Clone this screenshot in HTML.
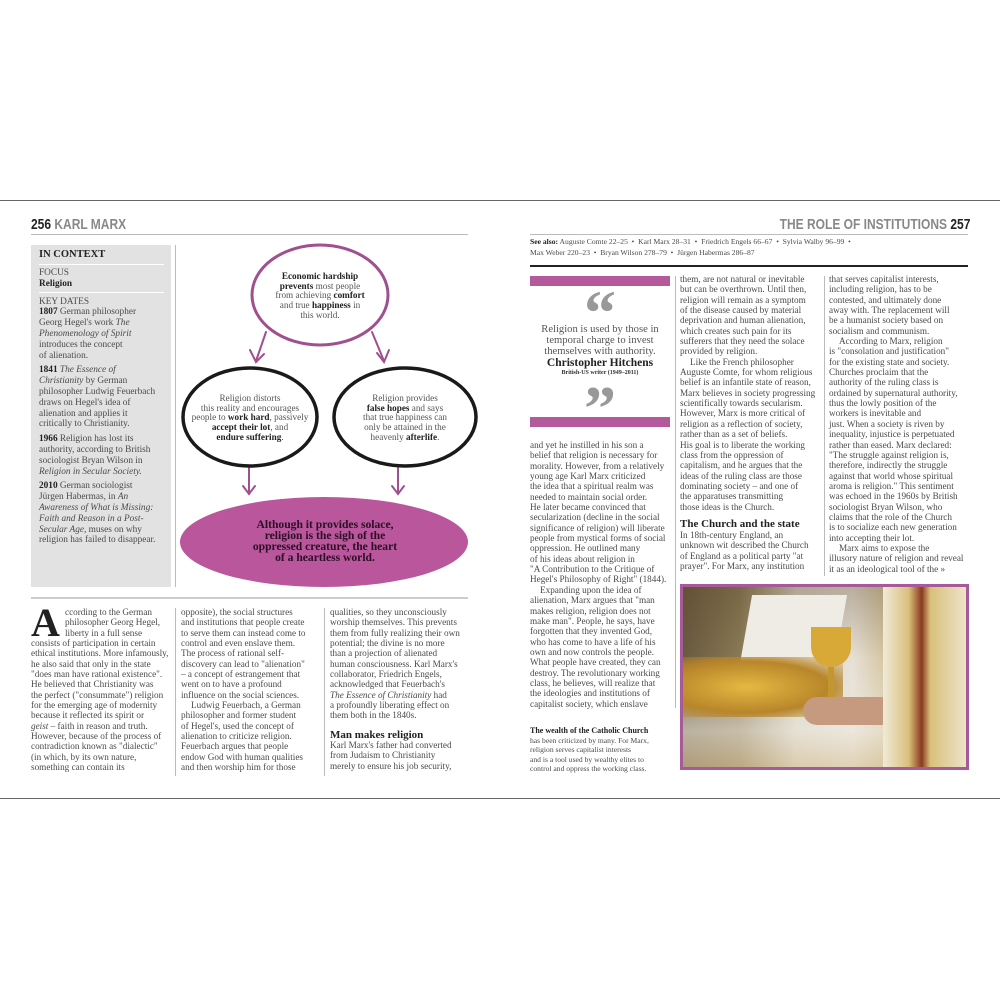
<!DOCTYPE html>
<html><head><meta charset="utf-8"><style>
*{margin:0;padding:0;box-sizing:border-box}
body{width:1000px;height:1000px;background:#fff;position:relative;overflow:hidden;font-family:"Liberation Serif",serif;color:#444}
.a{position:absolute}
.col{position:absolute;font-size:9.2px;line-height:10.35px;white-space:nowrap;color:#4a4a4a}
.col b{color:#222}
.hd{position:absolute;font-family:"Liberation Sans Narrow","Liberation Sans",sans-serif;font-weight:bold;font-size:15px;white-space:nowrap}
.vr{position:absolute;width:1px;background:#bbb}
.ind{padding-left:10px}
.dt{position:absolute;text-align:center;font-size:9.2px;line-height:9.7px;color:#555;white-space:nowrap}
.dt b{color:#222}
</style></head><body>
<div class="a" style="left:0;top:200px;width:1000px;height:599px;border-top:1.5px solid #666;border-bottom:1.5px solid #666"></div>

<div class="hd" style="left:31px;top:216px;transform:scaleX(.8);transform-origin:left"><span style="color:#222">256</span> <span style="color:#888">KARL MARX</span></div>
<div class="a" style="left:31px;top:234px;width:437px;height:1px;background:#bbb"></div>

<div class="a" style="left:31px;top:245px;width:140px;height:342px;background:#e2e2e2"></div>
<div class="vr" style="left:175px;top:245px;height:342px"></div>
<div class="a" style="left:39px;top:249px;font-size:10.5px;font-weight:bold;color:#222;white-space:nowrap">IN CONTEXT</div>
<div class="a" style="left:39px;top:264px;width:125px;height:1px;background:#fff"></div>
<div class="a" style="left:39px;top:292px;width:125px;height:1px;background:#fff"></div>
<div class="col" style="left:39px;top:268px;font-size:9.3px;line-height:10.8px">
<div>FOCUS</div><div><b>Religion</b></div>
<div style="height:7px"></div>
<div>KEY DATES</div>
<div><b>1807</b> German philosopher</div><div>Georg Hegel's work <i>The</i></div><div><i>Phenomenology of Spirit</i></div><div>introduces the concept</div><div>of alienation.</div>
<div style="height:4px"></div>
<div><b>1841</b> <i>The Essence of</i></div><div><i>Christianity</i> by German</div><div>philosopher Ludwig Feuerbach</div><div>draws on Hegel's idea of</div><div>alienation and applies it</div><div>critically to Christianity.</div>
<div style="height:4px"></div>
<div><b>1966</b> Religion has lost its</div><div>authority, according to British</div><div>sociologist Bryan Wilson in</div><div><i>Religion in Secular Society.</i></div>
<div style="height:4px"></div>
<div><b>2010</b> German sociologist</div><div>Jürgen Habermas, in <i>An</i></div><div><i>Awareness of What is Missing:</i></div><div><i>Faith and Reason in a Post-</i></div><div><i>Secular Age</i>, muses on why</div><div>religion has failed to disappear.</div>
</div>

<svg class="a" style="left:180px;top:240px" width="305" height="355" viewBox="180 240 305 355">
<g stroke="#a0508f" stroke-width="2" fill="none" stroke-linecap="round">
<line x1="266" y1="332" x2="256" y2="361"/><polyline points="250,350 256,362 264,354"/>
<line x1="372" y1="332" x2="384" y2="361"/><polyline points="377,353 384,362 389,350"/>
<line x1="249" y1="468" x2="249" y2="494"/><polyline points="243,486 249,494 255,486"/>
<line x1="398" y1="468" x2="398" y2="494"/><polyline points="392,486 398,494 404,486"/>
</g>
<ellipse cx="320" cy="295" rx="68" ry="50" fill="#fff" stroke="#a0508f" stroke-width="3"/>
<ellipse cx="250" cy="417" rx="67" ry="49" fill="#fff" stroke="#1a1a1a" stroke-width="3.5"/>
<ellipse cx="405" cy="417" rx="71" ry="49" fill="#fff" stroke="#1a1a1a" stroke-width="3.5"/>
<ellipse cx="324" cy="542" rx="144" ry="45" fill="#b9569c"/>
</svg>
<div class="dt" style="left:220px;top:272px;width:200px"><b>Economic hardship</b><br><b>prevents</b> most people<br>from achieving <b>comfort</b><br>and true <b>happiness</b> in<br>this world.</div>
<div class="dt" style="left:150px;top:394px;width:200px">Religion distorts<br>this reality and encourages<br>people to <b>work hard</b>, passively<br><b>accept their lot</b>, and<br><b>endure suffering</b>.</div>
<div class="dt" style="left:305px;top:394px;width:200px">Religion provides<br><b>false hopes</b> and says<br>that true happiness can<br>only be attained in the<br>heavenly <b>afterlife</b>.</div>
<div class="a" style="left:205px;top:519px;width:240px;text-align:center;font-size:11.6px;line-height:11px;font-weight:bold;color:#2a0e24;white-space:nowrap">Although it provides solace,<br>religion is the sigh of the<br>oppressed creature, the heart<br>of a heartless world.</div>

<div class="a" style="left:31px;top:597px;width:437px;height:2px;background:#ccc"></div>

<div class="a" style="left:31px;top:607px;font-family:'Liberation Serif',serif;font-weight:bold;font-size:40px;line-height:32px;color:#222">A</div>
<div class="col" style="left:31px;top:607px">
<div style="padding-left:34px">ccording to the German</div><div style="padding-left:34px">philosopher Georg Hegel,</div><div style="padding-left:34px">liberty in a full sense</div>
<div>consists of participation in certain</div><div>ethical institutions. More infamously,</div><div>he also said that only in the state</div><div>"does man have rational existence".</div><div>He believed that Christianity was</div><div>the perfect ("consummate") religion</div><div>for the emerging age of modernity</div><div>because it reflected its spirit or</div><div><i>geist</i> – faith in reason and truth.</div><div>However, because of the process of</div><div>contradiction known as "dialectic"</div><div>(in which, by its own nature,</div><div>something can contain its</div>
</div>
<div class="vr" style="left:175px;top:608px;height:168px"></div>
<div class="col" style="left:181px;top:607px">
<div>opposite), the social structures</div><div>and institutions that people create</div><div>to serve them can instead come to</div><div>control and even enslave them.</div><div>The process of rational self-</div><div>discovery can lead to "alienation"</div><div>– a concept of estrangement that</div><div>went on to have a profound</div><div>influence on the social sciences.</div><div class="ind">Ludwig Feuerbach, a German</div><div>philosopher and former student</div><div>of Hegel's, used the concept of</div><div>alienation to criticize religion.</div><div>Feuerbach argues that people</div><div>endow God with human qualities</div><div>and then worship him for those</div>
</div>
<div class="vr" style="left:324px;top:608px;height:168px"></div>
<div class="col" style="left:330px;top:607px">
<div>qualities, so they unconsciously</div><div>worship themselves. This prevents</div><div>them from fully realizing their own</div><div>potential; the divine is no more</div><div>than a projection of alienated</div><div>human consciousness. Karl Marx's</div><div>collaborator, Friedrich Engels,</div><div>acknowledged that Feuerbach's</div><div><i>The Essence of Christianity</i> had</div><div>a profoundly liberating effect on</div><div>them both in the 1840s.</div>
<div style="height:9px"></div>
<div style="font-weight:bold;font-size:11px;color:#222">Man makes religion</div>
<div>Karl Marx's father had converted</div><div>from Judaism to Christianity</div><div>merely to ensure his job security,</div>
</div>

<div class="hd" style="right:30px;top:216px;transform:scaleX(.8);transform-origin:right"><span style="color:#888">THE ROLE OF INSTITUTIONS</span> <span style="color:#222">257</span></div>
<div class="a" style="left:530px;top:234px;width:438px;height:1px;background:#bbb"></div>
<div class="col" style="left:530px;top:237px;font-size:7.6px;line-height:10.5px">
<div><b>See also:</b> Auguste Comte 22–25 &nbsp;•&nbsp; Karl Marx 28–31 &nbsp;•&nbsp; Friedrich Engels 66–67 &nbsp;•&nbsp; Sylvia Walby 96–99 &nbsp;•</div>
<div>Max Weber 220–23 &nbsp;•&nbsp; Bryan Wilson 278–79 &nbsp;•&nbsp; Jürgen Habermas 286–87</div>
</div>
<div class="a" style="left:530px;top:265px;width:438px;height:2px;background:#222"></div>

<div class="a" style="left:530px;top:276px;width:140px;height:10px;background:#b45a9c"></div>
<div class="a" style="left:530px;top:417px;width:140px;height:10px;background:#b45a9c"></div>
<div class="a" style="left:530px;top:288px;width:140px;text-align:center;font-size:64px;font-weight:bold;color:#999;line-height:50px;height:30px;overflow:hidden">“</div>
<div class="a" style="left:530px;top:324px;width:140px;text-align:center;font-size:10.6px;line-height:11px;color:#555">Religion is used by those in temporal charge to invest themselves with authority.</div>
<div class="a" style="left:530px;top:357px;width:140px;text-align:center;font-size:11.5px;font-weight:bold;color:#222">Christopher Hitchens</div>
<div class="a" style="left:530px;top:370px;width:140px;text-align:center;font-size:6px;font-weight:bold;color:#333">British-US writer (1949–2011)</div>
<div class="a" style="left:530px;top:384px;width:140px;text-align:center;font-size:64px;font-weight:bold;color:#999;line-height:50px;height:30px;overflow:hidden">”</div>

<div class="col" style="left:530px;top:440px">
<div>and yet he instilled in his son a</div><div>belief that religion is necessary for</div><div>morality. However, from a relatively</div><div>young age Karl Marx criticized</div><div>the idea that a spiritual realm was</div><div>needed to maintain social order.</div><div>He later became convinced that</div><div>secularization (decline in the social</div><div>significance of religion) will liberate</div><div>people from mystical forms of social</div><div>oppression. He outlined many</div><div>of his ideas about religion in</div><div>"A Contribution to the Critique of</div><div>Hegel's Philosophy of Right" (1844).</div><div class="ind">Expanding upon the idea of</div><div>alienation, Marx argues that "man</div><div>makes religion, religion does not</div><div>make man". People, he says, have</div><div>forgotten that they invented God,</div><div>who has come to have a life of his</div><div>own and now controls the people.</div><div>What people have created, they can</div><div>destroy. The revolutionary working</div><div>class, he believes, will realize that</div><div>the ideologies and institutions of</div><div>capitalist society, which enslave</div>
</div>
<div class="vr" style="left:675px;top:276px;height:432px"></div>
<div class="col" style="left:680px;top:274px">
<div>them, are not natural or inevitable</div><div>but can be overthrown. Until then,</div><div>religion will remain as a symptom</div><div>of the disease caused by material</div><div>deprivation and human alienation,</div><div>which creates such pain for its</div><div>sufferers that they need the solace</div><div>provided by religion.</div><div class="ind">Like the French philosopher</div><div>Auguste Comte, for whom religious</div><div>belief is an infantile state of reason,</div><div>Marx believes in society progressing</div><div>scientifically towards secularism.</div><div>However, Marx is more critical of</div><div>religion as a reflection of society,</div><div>rather than as a set of beliefs.</div><div>His goal is to liberate the working</div><div>class from the oppression of</div><div>capitalism, and he argues that the</div><div>ideas of the ruling class are those</div><div>dominating society – and one of</div><div>the apparatuses transmitting</div><div>those ideas is the Church.</div>
<div style="height:6px"></div>
<div style="font-weight:bold;font-size:11px;color:#222;line-height:12px">The Church and the state</div>
<div>In 18th-century England, an</div><div>unknown wit described the Church</div><div>of England as a political party "at</div><div>prayer". For Marx, any institution</div>
</div>
<div class="vr" style="left:824px;top:276px;height:300px"></div>
<div class="col" style="left:829px;top:274px">
<div>that serves capitalist interests,</div><div>including religion, has to be</div><div>contested, and ultimately done</div><div>away with. The replacement will</div><div>be a humanist society based on</div><div>socialism and communism.</div><div class="ind">According to Marx, religion</div><div>is "consolation and justification"</div><div>for the existing state and society.</div><div>Churches proclaim that the</div><div>authority of the ruling class is</div><div>ordained by supernatural authority,</div><div>thus the lowly position of the</div><div>workers is inevitable and</div><div>just. When a society is riven by</div><div>inequality, injustice is perpetuated</div><div>rather than eased. Marx declared:</div><div>"The struggle against religion is,</div><div>therefore, indirectly the struggle</div><div>against that world whose spiritual</div><div>aroma is religion." This sentiment</div><div>was echoed in the 1960s by British</div><div>sociologist Bryan Wilson, who</div><div>claims that the role of the Church</div><div>is to socialize each new generation</div><div>into accepting their lot.</div><div class="ind">Marx aims to expose the</div><div>illusory nature of religion and reveal</div><div>it as an ideological tool of the »</div>
</div>

<div class="col" style="left:530px;top:726px;font-size:7.6px;line-height:9.6px">
<div style="font-weight:bold;color:#222;font-size:8px">The wealth of the Catholic Church</div>
<div>has been criticized by many. For Marx,</div><div>religion serves capitalist interests</div><div>and is a tool used by wealthy elites to</div><div>control and oppress the working class.</div>
</div>

<div class="a" style="left:680px;top:584px;width:289px;height:186px;border:3px solid #a65a9a;overflow:hidden;background:linear-gradient(90deg,#6a5a40 0%,#8a7a55 20%,#d8d2c4 40%,#e6e0d6 60%,#c8b27a 80%,#bda264 100%)">
 <div class="a" style="left:0;top:0;width:100%;height:100%;background:linear-gradient(180deg,rgba(80,60,30,.3) 0%,rgba(0,0,0,0) 40%,rgba(240,235,225,.6) 80%,rgba(220,200,160,.6) 100%)"></div>
 <div class="a" style="left:62px;top:8px;width:95px;height:80px;background:#efece6;transform:skewX(-10deg)"></div>
 <div class="a" style="left:0;top:70px;width:160px;height:60px;background:radial-gradient(ellipse at 40% 50%,#e5b842,#b8862a 60%,rgba(150,110,40,0) 100%)"></div>
 <div class="a" style="left:128px;top:40px;width:40px;height:40px;border-radius:0 0 20px 20px;background:#d8a936"></div>
 <div class="a" style="left:145px;top:80px;width:6px;height:45px;background:#c49630"></div>
 <div class="a" style="left:120px;top:110px;width:120px;height:28px;border-radius:14px;background:#c59a7e"></div>
 <div class="a" style="left:200px;top:0;width:86px;height:180px;background:linear-gradient(90deg,#f0ead8,#d9c07a 30%,#8a3a20 45%,#d9c07a 55%,#efe7cf 100%)"></div>
</div>
</body></html>
